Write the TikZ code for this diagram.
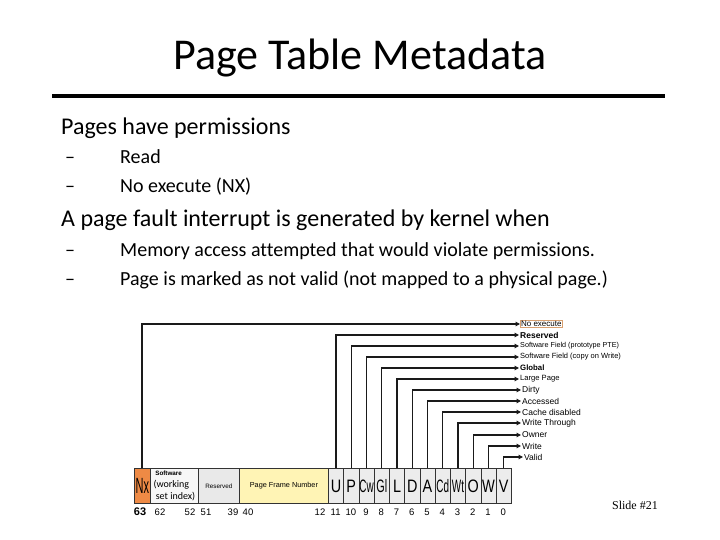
\documentclass[tikz,border=0pt]{standalone}
\usepackage{fontspec}
\setmainfont[Ligatures=NoCommon]{Carlito}
\newfontfamily\arialf{Liberation Sans}
\newfontfamily\serff{Liberation Serif}
\usetikzlibrary{arrows.meta}
\definecolor{nxorange}{HTML}{EE8A45}
\definecolor{swwhite}{HTML}{F7F7F7}
\definecolor{resgray}{HTML}{E9E9E9}
\definecolor{pfnyellow}{HTML}{FFF4B5}
\definecolor{bitgray}{HTML}{ECECEC}
\definecolor{nxframe}{HTML}{D8A070}
\definecolor{wire}{HTML}{1A1A1A}
\tikzset{
  fieldbox/.style={draw=black!80, line width=0.8pt, inner sep=0pt, anchor=north west},
  bitbox/.style={fieldbox, fill=bitgray, minimum width=15.25pt, minimum height=35pt},
  bitlbl/.style={font=\arialf\fontsize{8.5}{9}\selectfont, anchor=west, inner sep=1pt},
  bitnum/.style={font=\arialf\fontsize{9.5}{10}\selectfont, inner sep=0pt, anchor=base},
  wireline/.style={draw=wire, line width=1.1pt, -{Triangle[length=4.5pt,width=4.5pt]}},
  bodyone/.style={anchor=base west, inner sep=0pt, font=\fontsize{24}{28}\selectfont},
  bodytwo/.style={anchor=base west, inner sep=0pt, font=\fontsize{20}{24}\selectfont},
}
\newcommand{\cnd}[2]{\scalebox{#1}[1]{#2}}
\begin{document}
\begin{tikzpicture}[x=1pt,y=-1pt]
\useasboundingbox (0,0) rectangle (720,540);
% title
\node[anchor=base, inner sep=0pt, font=\fontsize{44}{50}\selectfont] (title) at (360,70) {Page Table Metadata};
\draw[line width=4pt] (52,96) coordinate (ruleL) -- (665,96) coordinate (ruleR);
% body text
\node[bodyone] (b1) at (61,135) {Pages have permissions};
\node[bodytwo] (d1) at (65,164) {--};
\node[bodytwo] (s1) at (120,164) {Read};
\node[bodytwo] (d2) at (65,193) {--};
\node[bodytwo] (s2) at (120,193) {No execute (NX)};
\node[bodyone] (b2) at (61,226) {A page fault interrupt is generated by kernel when};
\node[bodytwo] (d3) at (65,256) {--};
\node[bodytwo] (s3) at (120,256) {Memory access attempted that would violate permissions.};
\node[bodytwo] (d4) at (65,285) {--};
\node[bodytwo] (s4) at (120,285) {Page is marked as not valid (not mapped to a physical page.)};
% field boxes
\node[fieldbox, fill=nxorange, minimum width=16pt, minimum height=35pt] (nx) at (134,468)
  {\arialf\fontsize{22}{22}\selectfont\cnd{0.5}{Nx}};
\node[fieldbox, fill=swwhite, minimum width=48pt, minimum height=35pt, align=left] (sw) at (150,468)
  {\arialf\fontsize{6.3}{8.5}\selectfont\textbf{\ Software}\\ (working\\ \ set index)};
\node[fieldbox, fill=resgray, minimum width=41pt, minimum height=35pt] (res) at (198,468)
  {\arialf\fontsize{6.3}{7}\selectfont Reserved};
\node[fieldbox, fill=pfnyellow, minimum width=89pt, minimum height=35pt] (pfn) at (239,468)
  {\arialf\fontsize{7.3}{8}\selectfont Page Frame Number};
\foreach \nm/\txt/\sc [count=\i from 0] in {U/U/0.8,P/P/0.8,Cw/Cw/0.55,Gl/Gl/0.6,L/L/0.8,D/D/0.8,A/A/0.8,Cd/Cd/0.55,Wt/Wt/0.55,O/O/0.8,W/W/0.75,V/V/0.8}{
  \node[bitbox] (\nm) at ({328+15.25*\i},468) {\arialf\fontsize{18}{18}\selectfont\cnd{\sc}{\txt}};
}
% bit numbers
\node[bitnum, font=\arialf\bfseries\fontsize{11}{12}\selectfont] (n63) at (140,515) {63};
\node[bitnum] (n62) at (160,515) {62};
\node[bitnum] (n52) at (190,515) {52};
\node[bitnum] (n51) at (206,515) {51};
\node[bitnum] (n39) at (233,515) {39};
\node[bitnum] (n40) at (248,515) {40};
\node[bitnum] (n12) at (320,515) {12};
\foreach \nm/\num [count=\i from 0] in {U/11,P/10,Cw/9,Gl/8,L/7,D/6,A/5,Cd/4,Wt/3,O/2,W/1,V/0}{
  \node[bitnum] (n\num) at ({335.6+15.25*\i},515) {\num};
}
% labels
\node[bitlbl, font=\arialf\fontsize{8}{9}\selectfont, draw=nxframe, line width=0.6pt, inner sep=0.8pt] (lnx) at (520,324) {No execute};
\node[bitlbl, font=\arialf\bfseries\fontsize{8.5}{9}\selectfont] (lU) at (519,335) {Reserved};
\node[bitlbl, font=\arialf\fontsize{7.2}{8}\selectfont] (lP) at (519,346) {Software Field (prototype PTE)};
\node[bitlbl, font=\arialf\fontsize{7.5}{8}\selectfont] (lCw) at (519,357) {Software Field (copy on Write)};
\node[bitlbl, font=\arialf\bfseries\fontsize{7.8}{8}\selectfont] (lGl) at (519,368) {Global};
\node[bitlbl, font=\arialf\fontsize{7.6}{8}\selectfont] (lL) at (519,379) {Large Page};
\node[bitlbl] (lD) at (521,390) {Dirty};
\node[bitlbl] (lA) at (521,401) {Accessed};
\node[bitlbl] (lCd) at (521,412) {Cache disabled};
\node[bitlbl] (lWt) at (521,423) {Write Through};
\node[bitlbl] (lO) at (521,435) {Owner};
\node[bitlbl] (lW) at (521,446) {Write};
\node[bitlbl] (lV) at (523,457) {Valid};
% connectors
\draw[wireline] (142,468) |- (lnx.west);
\foreach \nm in {U,P,Cw,Gl,L,D,A,Cd,Wt,O,W,V}{
  \draw[wireline] (\nm.north) |- (l\nm.west);
}
% slide number
\node[anchor=base east, inner sep=0pt, font=\serff\fontsize{12}{14}\selectfont] (slide) at (658,509) {Slide \#21};
\end{tikzpicture}
\end{document}
